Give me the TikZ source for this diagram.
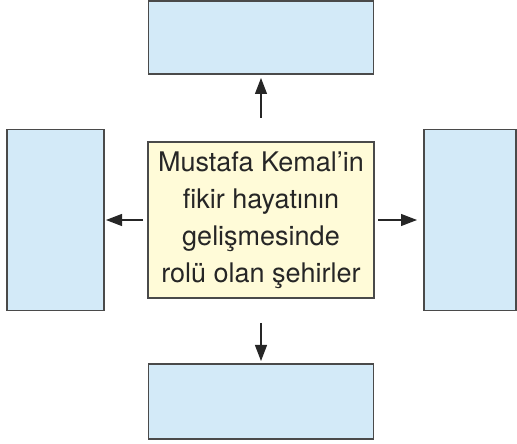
\documentclass[tikz,border=0pt]{standalone}
\usepackage{fontspec}
\setmainfont{TeX Gyre Heros}
\usetikzlibrary{arrows.meta,positioning}
\definecolor{cityblue}{RGB}{211,234,248}
\definecolor{titleyellow}{RGB}{255,251,216}
\definecolor{boxgray}{RGB}{74,74,74}

\begin{document}
\begin{tikzpicture}[x=1pt,y=1pt,
    box/.style={draw=boxgray,line width=1.2pt,fill=cityblue,inner sep=0pt,outer sep=0pt},
    arr/.style={-{Triangle[length=16pt,width=12pt]},line width=1.1pt,draw=black!85}]
\useasboundingbox (0,0) rectangle (517,444);

\node[box,fill=titleyellow,minimum width=226pt,minimum height=156pt,
      align=center,font=\fontsize{27}{37}\selectfont,text=black!85]
      (centerbox) at (261,224) {Mustafa Kemal'in\\fikir hayatının\\gelişmesinde\\rolü olan şehirler};
\node[box,minimum width=225pt,minimum height=73pt] (topbox)    [above=68pt of centerbox] {};
\node[box,minimum width=225pt,minimum height=75pt] (bottombox) [below=66pt of centerbox] {};
\node[box,minimum width=97pt,minimum height=181pt] (leftbox)   [left=44pt of centerbox]  {};
\node[box,minimum width=92pt,minimum height=181pt] (rightbox)  [right=50pt of centerbox] {};

\draw[arr,shorten <=24pt,shorten >=4pt] (centerbox) -- (topbox);
\draw[arr,shorten <=25pt,shorten >=3pt] (centerbox) -- (bottombox);
\draw[arr,shorten <=5pt,shorten >=2pt]  (centerbox) -- (leftbox);
\draw[arr,shorten <=4pt,shorten >=7pt]  (centerbox) -- (rightbox);
\end{tikzpicture}
\end{document}
